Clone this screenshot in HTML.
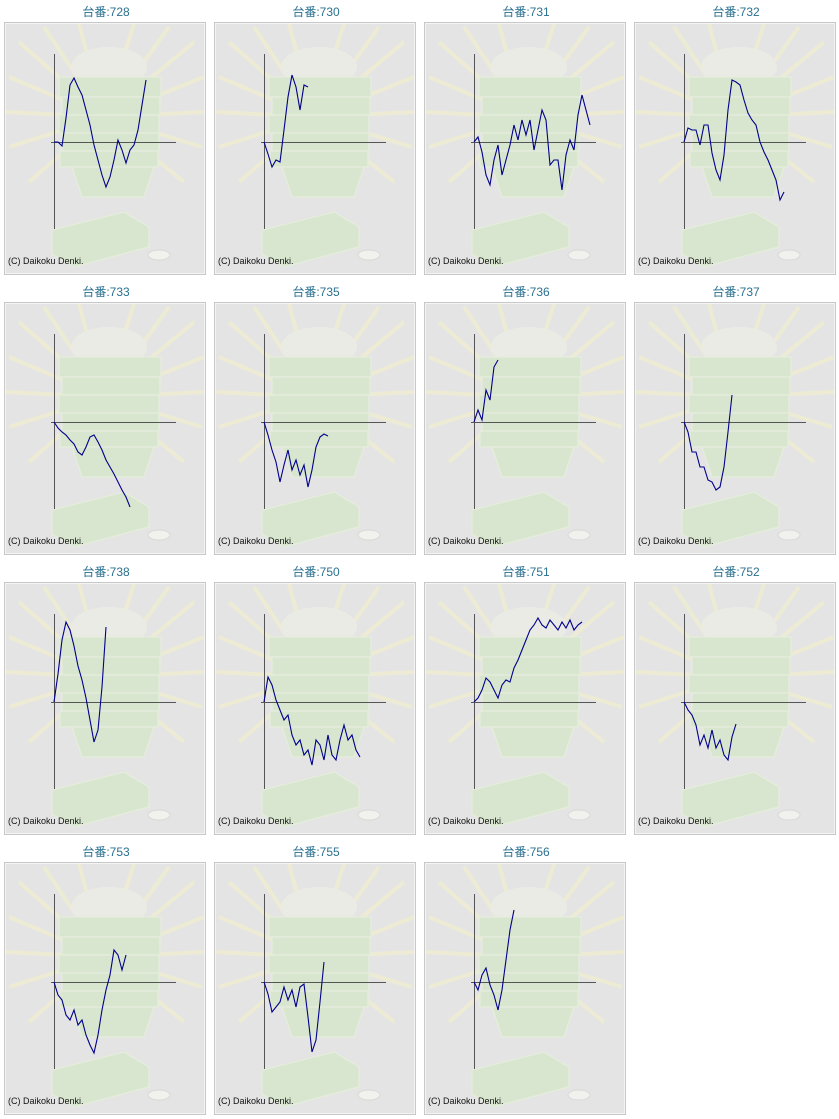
<!DOCTYPE html>
<html><head><meta charset="utf-8"><style>
body{margin:0;background:#fff;width:839px;height:1119px;position:relative;overflow:hidden;font-family:"Liberation Sans","Noto Sans CJK JP",sans-serif}
.cell{position:absolute;width:204px;height:278px}
.title{position:absolute;left:0;top:5px;width:204px;text-align:center;font-size:12px;color:#2a7090;line-height:14px}
svg.chart{position:absolute;left:0;top:22px}
</style></head><body>
<svg width="0" height="0" style="position:absolute"><defs>
<g id="bgart">
<rect x="0" y="0" width="202" height="253" fill="#e4e4e4"/>
<g stroke="#efedd2" stroke-width="4" opacity="0.85">
<line x1="100" y1="95" x2="5" y2="55"/><line x1="100" y1="95" x2="2" y2="90"/><line x1="100" y1="95" x2="5" y2="125"/><line x1="100" y1="95" x2="25" y2="160"/>
<line x1="100" y1="95" x2="200" y2="55"/><line x1="100" y1="95" x2="200" y2="90"/><line x1="100" y1="95" x2="198" y2="125"/><line x1="100" y1="95" x2="180" y2="160"/>
<line x1="100" y1="95" x2="40" y2="5"/><line x1="100" y1="95" x2="75" y2="2"/><line x1="100" y1="95" x2="130" y2="2"/><line x1="100" y1="95" x2="165" y2="5"/><line x1="100" y1="95" x2="15" y2="20"/><line x1="100" y1="95" x2="190" y2="20"/>
</g>
<ellipse cx="105" cy="45" rx="38" ry="20" fill="#ebebe6"/>
<g fill="#d9e6cf" stroke="#e4ecdc" stroke-width="1.5">
<rect x="55" y="55" width="102" height="20"/><rect x="58" y="75" width="98" height="18"/><rect x="55" y="93" width="100" height="18"/><rect x="58" y="111" width="97" height="18"/><rect x="56" y="129" width="98" height="16"/>
<path d="M68 145 L150 145 L140 175 L78 175 Z"/>
<path d="M48 208 L120 190 L145 205 L145 225 L70 245 L48 232 Z"/>
</g>
<ellipse cx="155" cy="233" rx="11" ry="5" fill="#f1f1ee" stroke="#d8d8d8"/>
</g></defs></svg>
<div id="root"></div>
<script>
const ids=["728","730","731","732","733","735","736","737","738","750","751","752","753","755","756"];
const s728=[0,0,-4,24,57,64,55,47,32,17,-3,-18,-33,-45,-35,-18,2,-8,-21,-8,-3,12,37,62];
const s730=[0,-12,-25,-18,-20,12,45,67,55,32,57,55];
const s731=[0,5,-10,-33,-43,-18,-3,-33,-18,-3,17,2,22,7,22,-8,12,32,22,-23,-18,-18,-48,-13,2,-8,27,47,32,17];
const s732=[0,14,12,12,-3,17,17,-11,-28,-38,-13,32,62,60,57,42,29,22,17,0,-10,-18,-28,-38,-58,-50];
const s733=[0,-6,-10,-13,-18,-22,-30,-33,-25,-15,-13,-20,-28,-38,-45,-52,-60,-68,-75,-85];
const s735=[0,-13,-28,-40,-60,-43,-28,-48,-38,-53,-43,-65,-48,-25,-15,-12,-14];
const s736=[0,12,2,32,22,55,62];
const s737=[0,-10,-30,-30,-45,-45,-58,-60,-68,-65,-45,-10,27];
const s738=[0,28,62,80,72,56,36,22,4,-18,-40,-28,15,75];
const s750=[0,25,17,2,-8,-18,-13,-33,-43,-38,-53,-48,-63,-38,-43,-58,-33,-53,-58,-38,-23,-38,-33,-48,-55];
const s751=[0,4,12,24,20,12,4,17,22,20,34,42,52,62,72,77,84,77,74,82,77,72,80,74,82,72,77,80];
const s752=[0,-8,-13,-23,-43,-33,-46,-28,-46,-38,-53,-58,-35,-22];
const s753=[0,-13,-18,-33,-38,-28,-43,-38,-53,-63,-71,-53,-28,-8,7,32,27,12,27];
const s755=[0,-12,-30,-25,-20,-5,-18,-8,-25,-5,-2,-35,-70,-58,-20,20];
const s756=[0,-8,7,14,-3,-13,-28,-8,22,52,72];
const series=[s728,s730,s731,s732,s733,s735,s736,s737,s738,s750,s751,s752,s753,s755,s756];
const NS="http://www.w3.org/2000/svg";
const ox=50, oy=120, step=4;
const xs=i=>ox+i*step, ys=v=>oy-v;
const root=document.getElementById('root');
ids.forEach((id,k)=>{
  const c=document.createElement('div');c.className='cell';
  
  
  c.style.left=(4+(k%4)*210)+'px';c.style.top=(Math.floor(k/4)*280)+'px';
  const t=document.createElement('div');t.className='title';t.textContent='台番:'+id;
  
  
  c.appendChild(t);
  const svg=document.createElementNS(NS,'svg');svg.setAttribute('class','chart');
  svg.setAttribute('width','202');svg.setAttribute('height','254');
  
  
  let h='<use href="#bgart"/>';
  h+='<rect x="0.5" y="0.5" width="201" height="252" fill="none" stroke="#c8c8c8"/><rect x="1.5" y="1.5" width="199" height="250" fill="none" stroke="#f4f4f4"/>';
  h+='<line x1="50.5" y1="32" x2="50.5" y2="207" stroke="#555" stroke-width="1"/>';
  h+='<line x1="47" y1="120.5" x2="172" y2="120.5" stroke="#555" stroke-width="1"/>';
  const d=series[k].map((v,i)=>(i?'L':'M')+xs(i)+' '+ys(v)).join(' ');
  h+='<path d="'+d+'" fill="none" stroke="#00008c" stroke-width="1.1"/>';
  h+='<text x="4" y="242" font-size="9" fill="#111" font-family="Liberation Sans, sans-serif">(C) Daikoku Denki.</text>';
  svg.innerHTML=h;c.appendChild(svg);root.appendChild(c);
});
</script>
</body></html>
